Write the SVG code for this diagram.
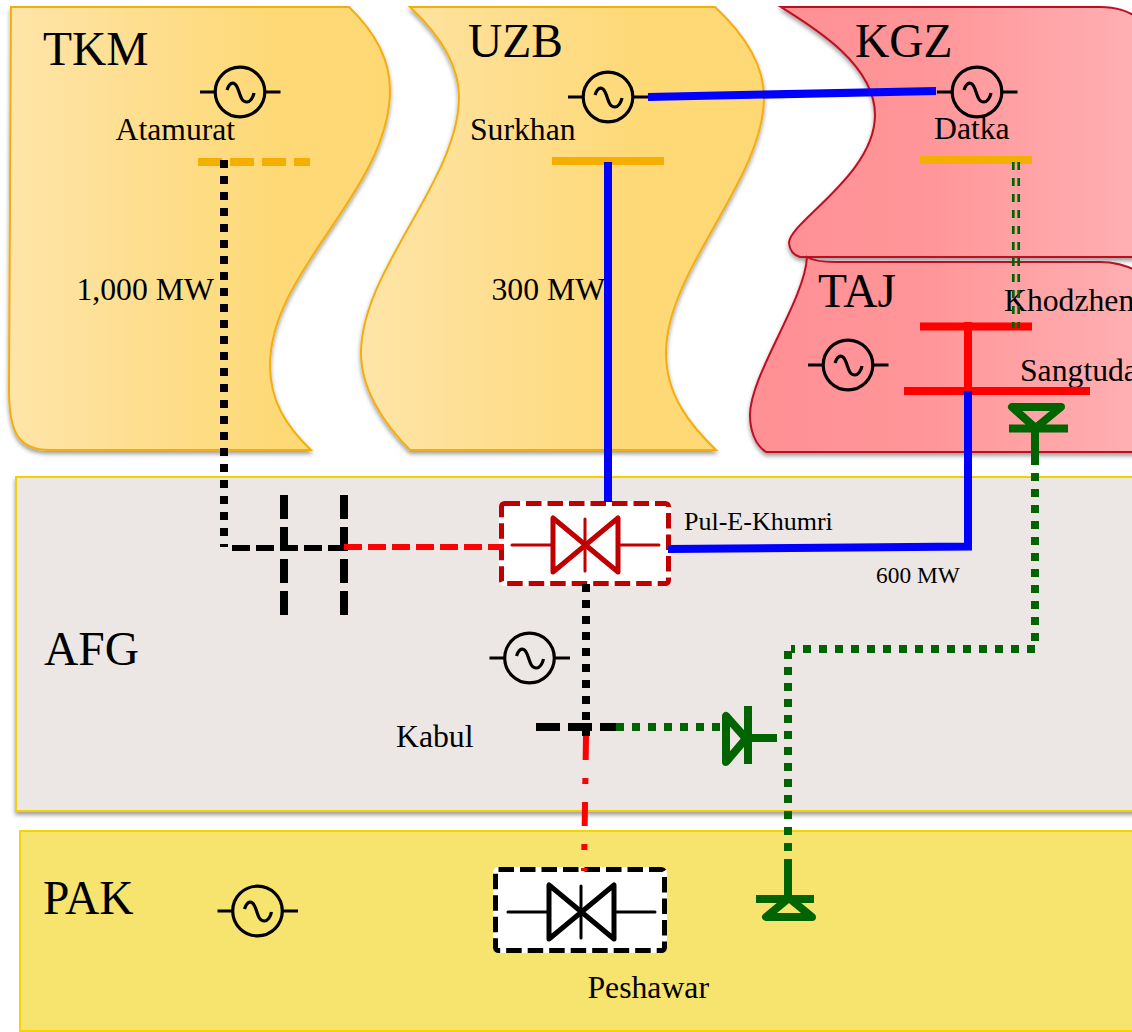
<svg xmlns="http://www.w3.org/2000/svg" xmlns:xlink="http://www.w3.org/1999/xlink" width="1132" height="1032" viewBox="0 0 1132 1032">
<style>
text{font-family:"Liberation Serif","Times New Roman",serif;fill:#000}
.big{font-size:47.5px}
.lab{font-size:31.7px}
.orange{fill:url(#og);stroke:#F3AE0F;stroke-width:2;filter:url(#sh)}
.red{fill:url(#rg);stroke:#C00D20;stroke-width:2;filter:url(#sh)}
.bus{fill:none;stroke-width:8}
.dot8{stroke-dasharray:8 8;stroke-width:8;fill:none}
.vdash{stroke:#000;stroke-width:8;fill:none;stroke-dasharray:24 8}
.sym{fill:none;stroke-linecap:round;stroke-linejoin:round}
.g{fill:none;stroke:#006400;stroke-width:8}
.halo{fill:#fff;stroke:#fff;stroke-width:5}
</style>
<defs>
<linearGradient id="og" x1="0" x2="1" y1="0" y2="0"><stop offset="0" stop-color="#FEE4A8"/><stop offset="0.7" stop-color="#FED976"/><stop offset="1" stop-color="#FED873"/></linearGradient>
<linearGradient id="rg" gradientUnits="userSpaceOnUse" x1="750" x2="1132" y1="0" y2="0"><stop offset="0" stop-color="#FF9095"/><stop offset="0.45" stop-color="#FF9598"/><stop offset="1" stop-color="#FFAFB2"/></linearGradient>
<filter id="sh" x="-5%" y="-5%" width="110%" height="112%"><feDropShadow dx="0" dy="3" stdDeviation="2" flood-color="#000" flood-opacity="0.38"/></filter>
<g id="gen" fill="none" stroke="#000" stroke-width="3.200">
<circle r="24.800"/>
<path d="M-40,0H-24.800M24.800,0H40.500"/>
<path d="M-13,-2C-10,-11 -5,-11 -2,-3C1,6 2,10 7,10C10,10 13,6 14,1"/>
</g>
<g id="valve" class="sym">
<path d="M-32,-27V27L33,-27V27Z" stroke-width="5"/>
<path d="M-73,0H-33M34,0H74M0,-26V26" stroke-width="3"/>
</g>
</defs>
<g id="TKM">
<path class="orange" d="M11,7L349,7C375,32 390,60 390,90C390,190 270,270 270,365C270,400 285,425 311,450L50,450C20,450 9,435 9,390Z"/>
<text class="big" x="43" y="65">TKM</text>
<use href="#gen" x="240" y="92"/>
<text class="lab" x="115.500" y="140">Atamurat</text>
<path class="bus" stroke="#F5AF00" stroke-dasharray="24 8" d="M198,162H310"/>
<text class="lab" x="76.500" y="300">1,000 MW</text>
</g>
<g id="UZB">
<path class="orange" d="M410,7C440,35 459,65 459,97C459,180 361,270 361,353C361,390 385,425 410,450L716,450C690,425 666,395 666,353C666,270 764,180 764,97C764,65 745,35 715,7Z"/>
<text class="big" x="468" y="57">UZB</text>
<use href="#gen" x="608" y="97"/>
<text class="lab" x="470" y="140">Surkhan</text>
<path class="bus" stroke="#F5AF00" d="M552,161H664"/>
<text class="lab" x="491.500" y="300">300 MW</text>
</g>
<g id="KGZ">
<path class="red" d="M781,7L1100,7Q1125,7 1140,20V257H800Q790,254 789,243C789,222 875,175 875,115C875,65 815,28 781,7Z"/>
<text class="big" x="855" y="57">KGZ</text>
<use href="#gen" x="977" y="92"/>
<text class="lab" x="934" y="139">Datka</text>
<path class="bus" stroke="#F5AF00" d="M920,160H1032"/>
</g>
<g id="TAJ">
<path class="red" d="M807,257Q815,262 835,262H1100Q1120,262 1140,272V452H766C755,445 750,430 750,415C750,375 805,300 807,257Z"/>
<text class="big" x="818" y="307">TAJ</text>
<use href="#gen" x="848" y="365"/>
<text class="lab" x="1004" y="311">Khodzhen</text>
<text class="lab" x="1020" y="381">Sangtuda</text>
<path class="bus" stroke="#F00" d="M920,326.500H1032M904,391H1090"/>
<path class="bus" stroke="#F00" d="M968,322V391"/>
<path class="g" d="M1012,407H1061L1035.500,428ZM1009,428.500H1068M1035,428V457" stroke-linejoin="round"/>
</g>
<g id="AFG">
<rect x="16" y="477" width="1130" height="334" fill="#ECE7E5" stroke="#F5D000" stroke-width="2" filter="url(#sh)"/>
<text class="big" x="44" y="665">AFG</text>
<text x="684" y="530" font-size="26">Pul-E-Khumri</text>
<text x="876" y="583" font-size="23.400">600 MW</text>
<use href="#gen" x="529.500" y="658"/>
<text class="lab" x="396" y="747">Kabul</text>
<path class="vdash" d="M284,495V615"/>
<path class="vdash" d="M344,495V615"/>
<path d="M536,727H616" class="vdash"/>
<path class="g" d="M726,716V762L746,738.500ZM748,706V764M748,738H777" stroke-linejoin="round"/>
</g>
<g id="Pul-E-Khumri">
<rect class="halo" x="501.500" y="503.500" width="167" height="80" rx="3"/>
<rect x="501.500" y="503.500" width="167" height="80" rx="3" fill="none" stroke="#C00000" stroke-width="5" stroke-dasharray="15.500 6"/>
<use href="#valve" x="585" y="545" stroke="#C00000"/>
</g>
<g id="PAK">
<rect x="20" y="831" width="1130" height="200" fill="#F6E46E" stroke="#F5D500" stroke-width="2"/>
<text class="big" x="43" y="914">PAK</text>
<use href="#gen" x="257.500" y="911"/>
<text class="lab" x="587.500" y="998">Peshawar</text>
<path class="g" d="M788,859V897M756,899H814M766,917H812L789,898Z" stroke-linejoin="round"/>
</g>
<g id="Peshawar">
<rect class="halo" x="495.500" y="869.500" width="169" height="81" rx="3"/>
<rect x="495.500" y="869.500" width="169" height="81" rx="3" fill="none" stroke="#000" stroke-width="5" stroke-dasharray="15.500 6"/>
<use href="#valve" x="581" y="912" stroke="#000"/>
</g>
<g id="connectors">
<path class="dot8" stroke="#000" d="M224,160V545"/>
<path fill="none" stroke="#000" stroke-width="6" stroke-dasharray="18 6" d="M232,548H344"/>
<path fill="none" stroke="#000" stroke-width="2" d="M220,546H228"/>
<path fill="none" stroke="#F00" stroke-width="6" stroke-dasharray="18 6" d="M344,547H504"/>
<path fill="none" stroke="#00F" stroke-width="8" d="M648,97L936,91"/>
<path fill="none" stroke="#00F" stroke-width="8" d="M608,162V502"/>
<path fill="none" stroke="#00F" stroke-width="8" d="M968,391V546.500L668,549"/>
<path fill="none" stroke="#006400" stroke-width="2.700" stroke-dasharray="8 8" d="M1013.300,162V328M1018.700,162V328"/>
<path class="dot8" stroke="#000" d="M586,584V737"/>
<path fill="none" stroke="#F00" stroke-width="6" stroke-dasharray="24 18 6 18" d="M586,736L584,871"/>
<path class="dot8" stroke="#006400" d="M616,727H722"/>
<path class="dot8" stroke="#006400" d="M1035,457V649H791"/>
<path class="dot8" stroke="#006400" d="M788,651V859"/>
</g>
</svg>
